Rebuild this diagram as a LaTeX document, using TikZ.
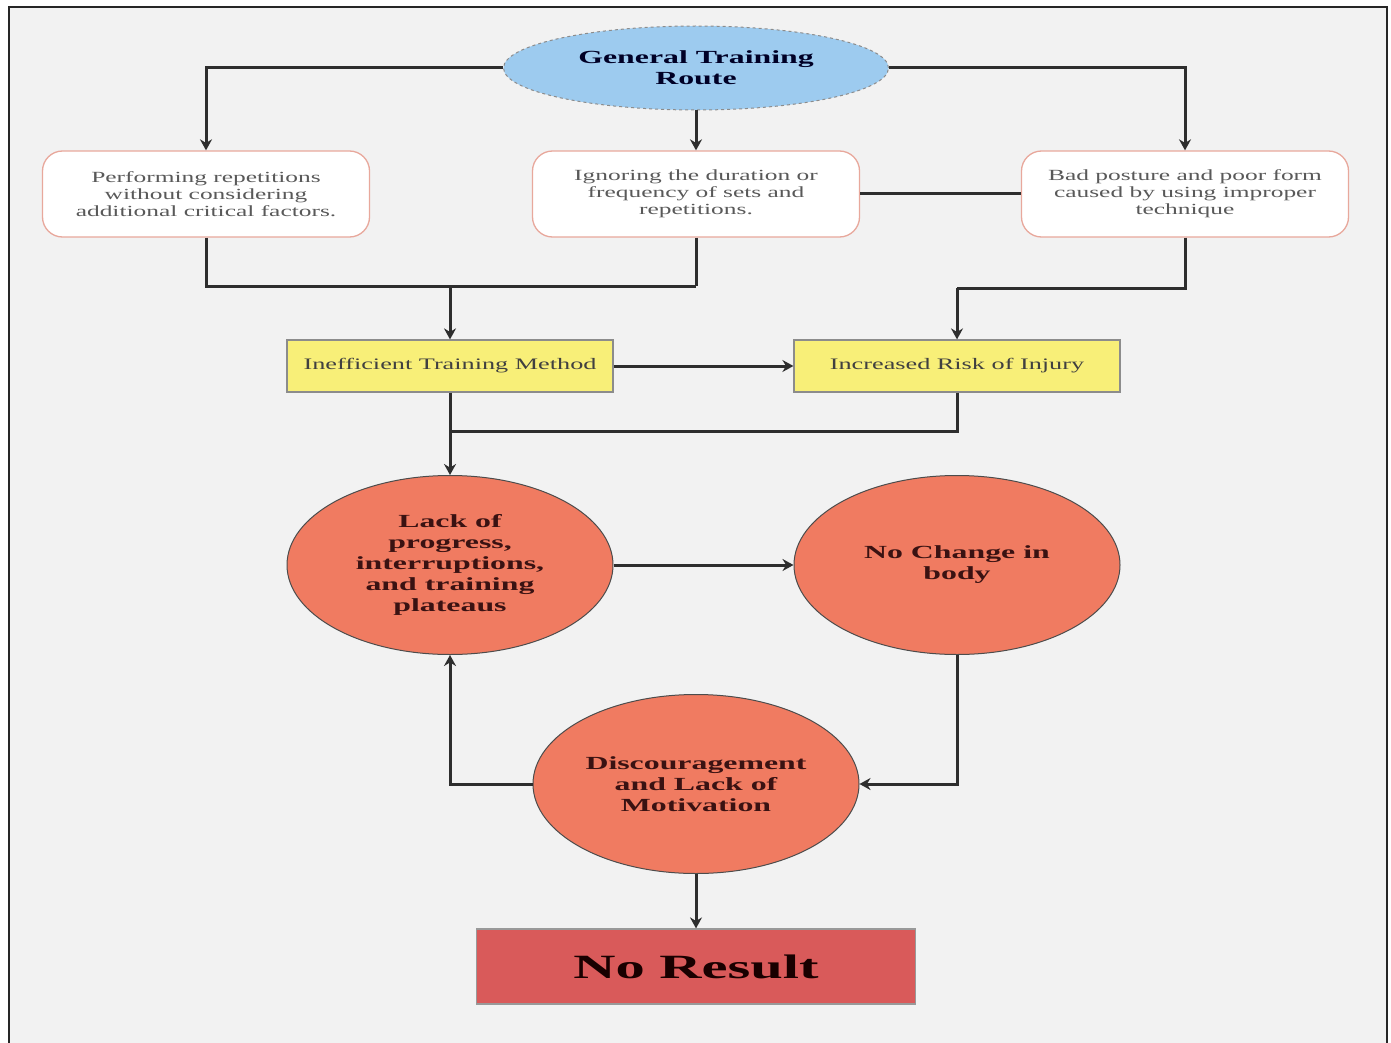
\documentclass[tikz,border=0pt]{standalone}
\usepackage{fontspec}
\setmainfont{Liberation Serif}
\newfontfamily\wideserif[FakeStretch=1.64]{Liberation Serif}
\newfontfamily\widebold[FakeStretch=1.72,BoldFont={* Bold}]{Liberation Serif}
\usetikzlibrary{shapes.geometric,arrows.meta}
\definecolor{bgray}{HTML}{F2F2F2}
\definecolor{lblue}{HTML}{9DCBEF}
\definecolor{coral}{HTML}{F07B61}
\definecolor{yel}{HTML}{F8EF78}
\definecolor{nored}{HTML}{D95A5A}
\definecolor{pinkline}{HTML}{E8A89C}
\definecolor{lineg}{HTML}{2E2E2E}
\definecolor{txtred}{HTML}{3A1212}
\tikzset{
  conn/.style={draw=lineg,line width=3pt},
  arr/.style={conn,-{Stealth[length=11pt,width=12pt]}},
  rbox/.style={draw=pinkline,line width=1.3pt,fill=white,rounded corners=20pt,
    minimum width=327pt,minimum height=86pt,align=center,text=black!65,
    font=\wideserif\fontsize{15.5}{17}\selectfont},
  ybox/.style={draw=black!45,line width=1.2pt,fill=yel,minimum width=326pt,
    minimum height=52pt,align=center,text=black!75,font=\wideserif\fontsize{16}{19}\selectfont},
  cbox/.style={ellipse,draw=black!70,line width=1pt,fill=coral,minimum width=326pt,
    minimum height=179pt,inner sep=0pt,align=center,text=txtred,
    font=\widebold\bfseries\fontsize{18.5}{21}\selectfont},
}
\begin{document}
\begin{tikzpicture}[x=1pt,y=-1pt]
\useasboundingbox (0,0) rectangle (1391,1043);
\fill[white] (0,0) rectangle (1391,1043);
\fill[bgray] (9,7) rectangle (1387,1043);
\draw[black!85,line width=2pt] (9,1043) -- (9,7) -- (1387,7) -- (1387,1043);

\node[ellipse,draw=black!45,dashed,line width=1pt,fill=lblue,minimum width=385pt,
  minimum height=84pt,inner sep=0pt,align=center,text=black!85!blue,
  font=\widebold\bfseries\fontsize{18.5}{21}\selectfont] (gen) at (696,68)
  {General Training\\Route};

\node[rbox] (b1) at (206,194) {Performing repetitions\\without considering\\additional critical factors.};
\node[rbox] (b2) at (696,194) {Ignoring the duration or\\frequency of sets and\\repetitions.};
\node[rbox] (b3) at (1185,194) {Bad posture and poor form\\caused by using improper\\technique};

\node[ybox] (y1) at (450,366) {Inefficient Training Method};
\node[ybox] (y2) at (957,366) {Increased Risk of Injury};

\node[cbox] (c1) at (450,565) {Lack of\\progress,\\interruptions,\\and training\\plateaus};
\node[cbox] (c2) at (957,565) {No Change in\\body};
\node[cbox] (c3) at (696,784) {Discouragement\\and Lack of\\Motivation};

\node[draw=black!40,line width=1.2pt,fill=nored,minimum width=439pt,minimum height=75pt,
  text=black!90!red,font=\widebold\bfseries\fontsize{34}{38}\selectfont] (nr) at (696,966.5) {No Result};

\coordinate (j2) at (696,286);
\coordinate (j3) at (450,286);
\coordinate (k2) at (957,288);
\coordinate (m2) at (450,431);

\draw[arr] (gen.west) -| (b1.north);
\draw[arr] (gen.south) -- (b2.north);
\draw[arr] (gen.east) -| (b3.north);
\draw[conn] (b2.east) -- (b3.west);
\draw[conn] (b1.south) |- (j2);
\draw[conn] (b2.south) -- (j2);
\draw[arr] (j3) -- (y1.north);
\draw[conn] (b3.south) |- (k2);
\draw[arr] (k2) -- (y2.north);
\draw[arr] (y1.east) -- (y2.west);
\draw[arr] (y1.south) -- (c1.north);
\draw[conn] (y2.south) |- (m2);
\draw[arr] (c1.east) -- (c2.west);
\draw[arr] (c2.south) |- (c3.east);
\draw[arr] (c3.west) -| (c1.south);
\draw[arr] (c3.south) -- (nr.north);
\end{tikzpicture}
\end{document}
